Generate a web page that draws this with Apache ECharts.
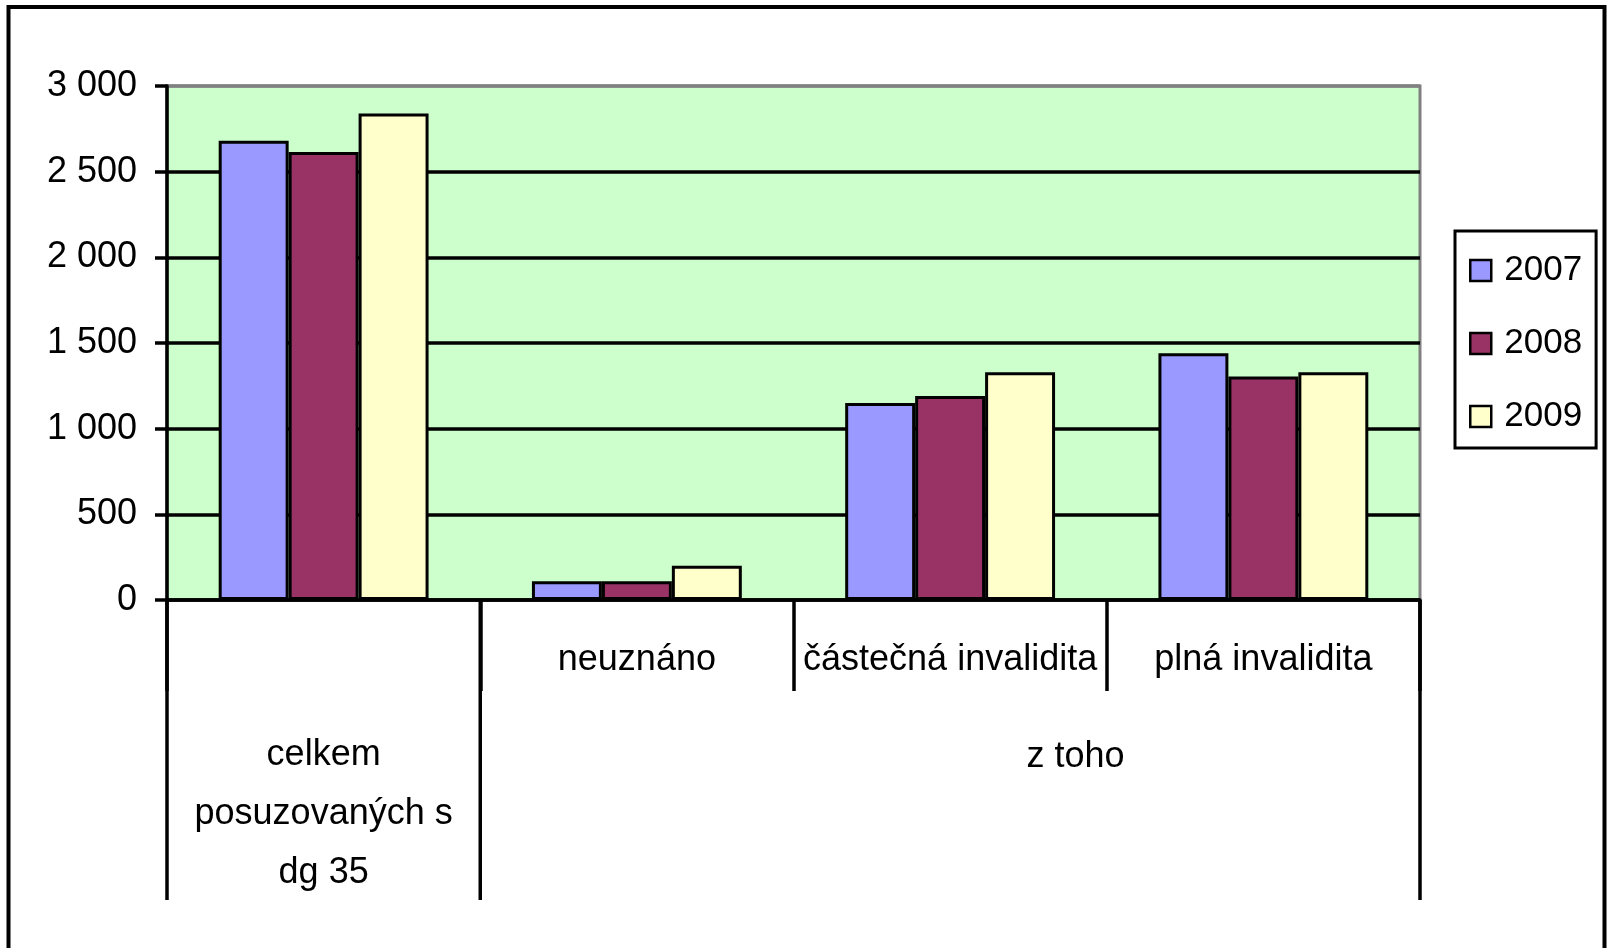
<!DOCTYPE html>
<html>
<head>
<meta charset="utf-8">
<script src="https://cdn.jsdelivr.net/npm/echarts@6/dist/echarts.min.js"></script>
<style>
  html, body { margin: 0; padding: 0; background: #fff; }
  #main { width: 1610px; height: 948px; }
</style>
</head>
<body>
<div id="main"></div>
<script>
var categories = ['celkem\nposuzovaných s\ndg 35', 'neuznáno', 'částečná invalidita', 'plná invalidita'];
var groupLabel = 'z toho';
var years = ['2007', '2008', '2009'];
var values2007 = [2680, 110, 1150, 1440];
var values2008 = [2615, 110, 1190, 1305];
var values2009 = [2840, 200, 1330, 1330];
var yMax = 3000;
var yStep = 500;

var colors = ['#9999FF', '#993366', '#FFFFCC'];
var FONT = "'Liberation Sans', Arial, sans-serif";
var FS = 36;

function spaced(v) {
  return String(v).replace(/\B(?=(\d{3})+(?!\d))/g, ' ');
}

var seriesValues = [values2007, values2008, values2009];

var chart = echarts.init(document.getElementById('main'));
var option = {
  animation: false,
  backgroundColor: '#fff',
  textStyle: { fontFamily: FONT },
  grid: {
    left: 167, top: 86, right: 190, bottom: 348,
    show: true,
    backgroundColor: '#CCFFCC',
    borderColor: '#808080',
    borderWidth: 3
  },
  legend: {
    data: years,
    orient: 'vertical',
    left: 1455,
    top: 231,
    padding: [22, 14, 14, 14],
    itemGap: 38,
    itemWidth: 21,
    itemHeight: 21,
    borderColor: '#000',
    borderWidth: 3,
    icon: 'rect',
    itemStyle: { borderColor: '#000', borderWidth: 2.5 },
    textStyle: { fontSize: 35, color: '#000', fontFamily: FONT, padding: [0, 0, 0, 8] }
  },
  xAxis: {
    type: 'category',
    data: categories,
    axisLine: { lineStyle: { color: '#000', width: 3.5 } },
    axisTick: { show: true, interval: 0, length: 91, lineStyle: { color: '#000', width: 3.5 } },
    axisLabel: {
      interval: 0,
      margin: 42,
      fontSize: FS,
      color: '#000',
      fontFamily: FONT,
      formatter: function (v, i) { return i === 0 ? '' : v; }
    }
  },
  yAxis: {
    type: 'value',
    min: 0,
    max: yMax,
    interval: yStep,
    axisLine: { show: true, lineStyle: { color: '#000', width: 3.5 } },
    axisTick: { show: true, length: 12, lineStyle: { color: '#000', width: 3.5 } },
    axisLabel: { margin: 30, fontSize: FS, color: '#000', fontFamily: FONT, formatter: spaced },
    splitLine: {
      show: true,
      lineStyle: { color: ['#000', '#000', '#000', '#000', '#000', '#000', '#808080'], width: 3.5 }
    }
  },
  series: years.map(function (y, k) {
    return {
      name: y,
      type: 'bar',
      data: seriesValues[k],
      barGap: '0%',
      barCategoryGap: '33%',
      itemStyle: { color: colors[k], borderColor: '#000', borderWidth: 3 }
    };
  })
};
chart.setOption(option);

// multi-level axis decorations, placed from the axis scale
var y0 = chart.convertToPixel({ yAxisIndex: 0 }, 0);
var c0 = chart.convertToPixel({ xAxisIndex: 0 }, 0);
var c1 = chart.convertToPixel({ xAxisIndex: 0 }, 1);
var band = c1 - c0;
function edge(i) { return c0 - band / 2 + i * band; }
var lineBottom = 900;

var graphics = [
  {
    type: 'rect', z: 100, silent: true,
    shape: { x: 8.5, y: 7, width: 1596, height: 1100 },
    style: { fill: 'none', stroke: '#000', lineWidth: 4 }
  },
  {
    type: 'text', z: 100,
    style: {
      text: categories[0], x: c0, y: 814, align: 'center', verticalAlign: 'middle',
      font: FS + 'px ' + FONT, fill: '#000', lineHeight: 59
    }
  },
  {
    type: 'text', z: 100,
    style: {
      text: groupLabel, x: edge(2.9), y: 757, align: 'center', verticalAlign: 'middle',
      font: FS + 'px ' + FONT, fill: '#000'
    }
  }
];
[0, 1, 4].forEach(function (i) {
  graphics.push({
    type: 'line', z: 100,
    shape: { x1: edge(i), y1: y0, x2: edge(i), y2: lineBottom },
    style: { stroke: '#000', lineWidth: 3.5 }
  });
});
chart.setOption({ graphic: graphics });
</script>
</body>
</html>
